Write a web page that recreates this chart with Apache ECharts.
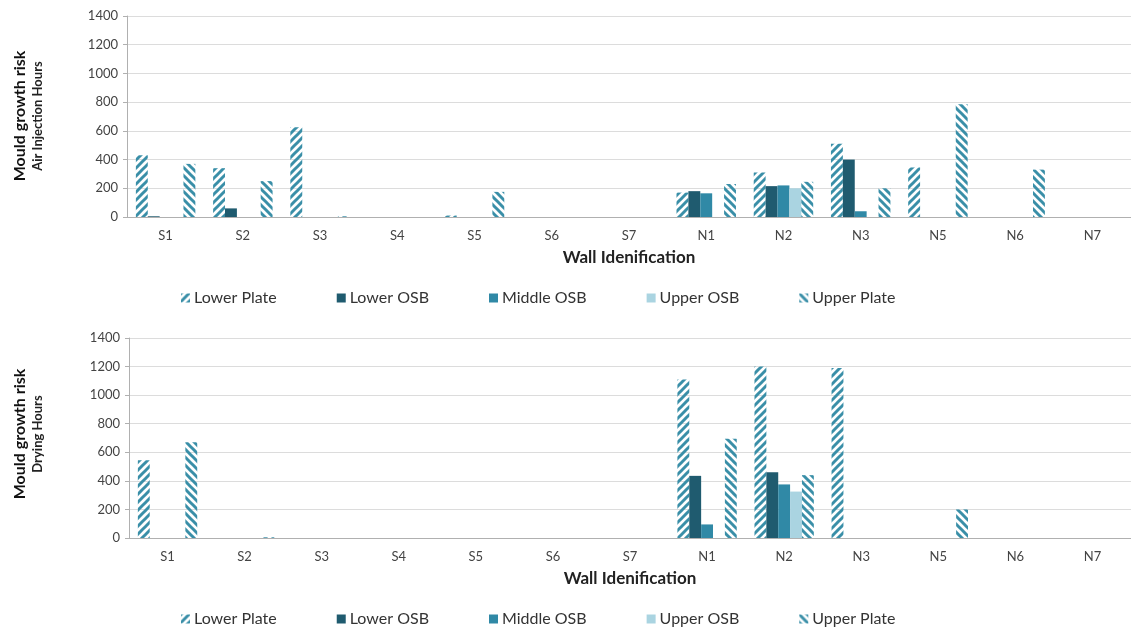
<!DOCTYPE html>
<html>
<head>
<meta charset="utf-8">
<script src="https://cdn.jsdelivr.net/npm/echarts@6/dist/echarts.min.js"></script>
<style>
  html, body { margin: 0; padding: 0; background: #fff; }
  #main { width: 1131px; height: 628px; }
</style>
</head>
<body>
<div id="main"></div>
<script>
const walls = ['S1', 'S2', 'S3', 'S4', 'S5', 'S6', 'S7', 'N1', 'N2', 'N3', 'N5', 'N6', 'N7'];
const seriesNames = ['Lower Plate', 'Lower OSB', 'Middle OSB', 'Upper OSB', 'Upper Plate'];

// air injection hours
const lowerPlateAir = [430, 340, 625, 0, 10, 0, 0, 170, 310, 510, 345, 0, 0];
const lowerOsbAir = [5, 60, 0, 0, 0, 0, 0, 180, 215, 400, 0, 0, 0];
const middleOsbAir = [0, 0, 0, 0, 0, 0, 0, 165, 220, 40, 0, 0, 0];
const upperOsbAir = [0, 0, 0, 0, 0, 0, 0, 0, 200, 0, 0, 0, 0];
const upperPlateAir = [370, 250, 5, 0, 175, 0, 0, 230, 245, 200, 785, 330, 0];

// drying hours
const lowerPlateDry = [545, 0, 0, 0, 0, 0, 0, 1110, 1200, 1190, 0, 0, 0];
const lowerOsbDry = [0, 0, 0, 0, 0, 0, 0, 435, 460, 0, 0, 0, 0];
const middleOsbDry = [0, 0, 0, 0, 0, 0, 0, 95, 375, 0, 0, 0, 0];
const upperOsbDry = [0, 0, 0, 0, 0, 0, 0, 0, 325, 0, 0, 0, 0];
const upperPlateDry = [670, 5, 0, 0, 0, 0, 0, 695, 440, 0, 200, 0, 0];

const FONT = 'Lato, "Open Sans", sans-serif';
const HATCH = '#3a8fa8';

function makeHatch(up) {
  const c = document.createElement('canvas');
  c.width = 8;
  c.height = 8;
  const ctx = c.getContext('2d');
  ctx.strokeStyle = HATCH;
  ctx.lineWidth = 3;
  ctx.lineCap = 'square';
  for (let k = -8; k <= 8; k += 8) {
    ctx.beginPath();
    if (up) {
      ctx.moveTo(k, 8);
      ctx.lineTo(k + 8, 0);
    } else {
      ctx.moveTo(k, 0);
      ctx.lineTo(k + 8, 8);
    }
    ctx.stroke();
  }
  return { image: c, repeat: 'repeat' };
}

const fills = [makeHatch(true), '#1f5b6f', '#3089a6', '#aad4e1', makeHatch(false)];

function makeSeries(idx, lists) {
  return lists.map((d, i) => ({
    name: seriesNames[i],
    type: 'bar',
    xAxisIndex: idx,
    yAxisIndex: idx,
    barGap: '0%',
    barCategoryGap: '23%',
    itemStyle: { color: fills[i] },
    data: d
  }));
}

function xAxisOf(gridIndex) {
  return {
    gridIndex,
    type: 'category',
    data: walls,
    name: 'Wall Idenification',
    nameLocation: 'middle',
    nameGap: 32,
    nameTextStyle: { fontFamily: FONT, fontWeight: 'bold', fontSize: 17, color: '#222' },
    axisLine: { lineStyle: { color: '#b0b0b0' } },
    axisTick: { length: 4, lineStyle: { color: '#b0b0b0' } },
    axisLabel: { fontFamily: FONT, fontSize: 13, color: '#444', margin: 12 }
  };
}

function yAxisOf(gridIndex) {
  return {
    gridIndex,
    type: 'value',
    min: 0,
    max: 1400,
    interval: 200,
    axisLine: { show: true, lineStyle: { color: '#b0b0b0' } },
    axisTick: { show: true, length: 4, lineStyle: { color: '#b0b0b0' } },
    splitLine: { lineStyle: { color: '#dcdcdc' } },
    axisLabel: { fontFamily: FONT, fontSize: 13, color: '#444', margin: 9, formatter: v => String(v) }
  };
}

function legendAt(top) {
  return {
    data: seriesNames,
    left: 176,
    top,
    itemGap: 60,
    itemWidth: 9,
    itemHeight: 9,
    icon: 'rect',
    textStyle: { fontFamily: FONT, fontSize: 16, color: '#333', padding: [0, 0, 0, -1] }
  };
}

function yTitle(y, sub) {
  return [
    {
      type: 'text', x: 20, y, rotation: Math.PI / 2,
      style: { text: 'Mould growth risk', fontFamily: FONT, fontWeight: 'bold', fontSize: 16, fill: '#111', align: 'center', verticalAlign: 'middle' }
    },
    {
      type: 'text', x: 38, y, rotation: Math.PI / 2,
      style: { text: sub, fontFamily: FONT, fontWeight: 'bold', fontSize: 13, fill: '#222', align: 'center', verticalAlign: 'middle' }
    }
  ];
}

const chart = echarts.init(document.getElementById('main'), null, { renderer: 'canvas' });
chart.setOption({
  animation: false,
  backgroundColor: '#fff',
  grid: [
    { left: 127, top: 16, width: 1011, height: 201 },
    { left: 129, top: 338, width: 1011, height: 200 }
  ],
  xAxis: [xAxisOf(0), xAxisOf(1)],
  yAxis: [yAxisOf(0), yAxisOf(1)],
  legend: [legendAt(285), legendAt(606)],
  graphic: [].concat(yTitle(116, 'Air Injection Hours'), yTitle(434, 'Drying Hours')),
  series: [].concat(
    makeSeries(0, [lowerPlateAir, lowerOsbAir, middleOsbAir, upperOsbAir, upperPlateAir]),
    makeSeries(1, [lowerPlateDry, lowerOsbDry, middleOsbDry, upperOsbDry, upperPlateDry])
  )
});
</script>
</body>
</html>
